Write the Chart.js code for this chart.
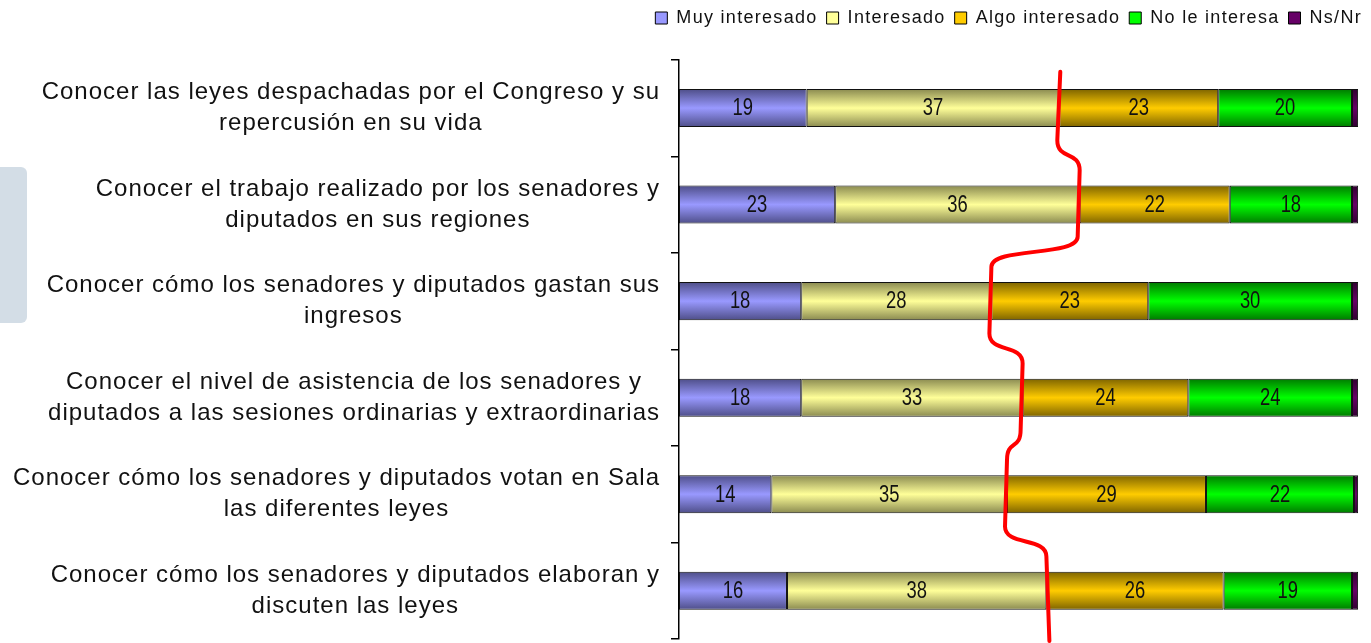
<!DOCTYPE html>
<html>
<head>
<meta charset="utf-8">
<script src="https://cdn.jsdelivr.net/npm/chart.js@4.4.1/dist/chart.umd.min.js"></script>
<style>
  html, body { margin: 0; padding: 0; background: #fff; overflow: hidden; }
  #wrap { position: relative; width: 1371px; height: 643px; }
  #side { position: absolute; left: -10px; top: 167px; width: 37px; height: 156px; background: #d3dde6; border-radius: 6px; }
  canvas { position: absolute; left: 0; top: 0; }
</style>
</head>
<body>
<div id="wrap">
  <div id="side"></div>
  <canvas id="c" width="1371" height="643"></canvas>
</div>
<script>
// ---- data ----
const categories = [
  ["Conocer las leyes despachadas por el Congreso y su", "repercusión en su vida"],
  ["Conocer el trabajo realizado por los senadores y", "diputados en sus regiones"],
  ["Conocer cómo los senadores y diputados gastan sus", "ingresos"],
  ["Conocer el nivel de asistencia de los senadores y", "diputados a las sesiones ordinarias y extraordinarias"],
  ["Conocer cómo los senadores y diputados votan en Sala", "las diferentes leyes"],
  ["Conocer cómo los senadores y diputados elaboran y", "discuten las leyes"]
];
const seriesNames = ["Muy interesado", "Interesado", "Algo interesado", "No le interesa", "Ns/Nr"];
const muyInteresado  = [18.8, 23.0, 18.0, 18.0, 13.6, 15.9];
const interesado     = [37.2, 36.0, 28.0, 32.6, 34.7, 38.2];
const algoInteresado = [23.4, 22.1, 23.1, 24.4, 29.3, 26.1];
const noLeInteresa   = [19.7, 18.0, 30.0, 24.1, 21.8, 18.9];
const nsNr           = [0.9, 0.9, 0.9, 0.9, 0.6, 0.9];

// ---- styles ----
const MID  = ["#9999ff", "#ffff99", "#ffcc00", "#00ff00", "#660066"];
const EDGE = ["#4e4e88", "#8a8a50", "#7e6400", "#007a00", "#300030"];

function barFill(ctx) {
  const i = ctx.datasetIndex;
  if (ctx.type !== 'data') return MID[i];
  const chart = ctx.chart, ys = chart.scales.y;
  if (!ys || !chart.chartArea) return MID[i];
  const yc = ys.getPixelForValue(ctx.dataIndex);
  const band = ys.height / categories.length;
  const half = band * 0.394 / 2;
  if (!isFinite(yc)) return MID[i];
  const g = chart.ctx.createLinearGradient(0, yc - half, 0, yc + half);
  g.addColorStop(0, EDGE[i]);
  g.addColorStop(0.5, MID[i]);
  g.addColorStop(1, EDGE[i]);
  return g;
}

const seriesData = [muyInteresado, interesado, algoInteresado, noLeInteresa, nsNr];

const LABEL_FONT = '24px "Liberation Sans", Arial, sans-serif';
let narrowAvail = null;
function checkNarrow(c) {
  if (narrowAvail !== null) return narrowAvail;
  c.save();
  c.font = '40px "Liberation Sans Narrow", monospace';
  const a = c.measureText('0123456789abc').width;
  c.font = '40px monospace';
  const b = c.measureText('0123456789abc').width;
  c.restore();
  narrowAvail = Math.abs(a - b) > 0.5;
  return narrowAvail;
}

const textPlugin = {
  id: 'textPlugin',
  beforeLayout(chart) { chart.ctx.letterSpacing = '1.3px'; },
  beforeDraw(chart) { chart.ctx.letterSpacing = '1.3px'; },
  afterDatasetsDraw(chart) {
    const c = chart.ctx;
    c.save();
    const narrow = checkNarrow(c);
    c.letterSpacing = '0px';
    c.fillStyle = '#111';
    c.textAlign = 'center';
    c.textBaseline = 'middle';
    for (let d = 0; d < 4; d++) {
      const meta = chart.getDatasetMeta(d);
      meta.data.forEach((el, k) => {
        const v = chart.data.datasets[d].data[k];
        const cx = (el.x + el.base) / 2, cy = el.y + 1;
        const txt = String(Math.round(v));
        c.save();
        if (narrow) {
          c.font = '24px "Liberation Sans Narrow"';
          c.fillText(txt, cx, cy);
          c.fillText(txt, cx + 0.4, cy);
        } else {
          c.translate(cx, cy);
          c.scale(0.8, 1);
          c.font = '23px "Liberation Sans", Arial, sans-serif';
          c.fillText(txt, 0, 0);
        }
        c.restore();
      });
    }
    c.restore();
  },
  afterDraw(chart) {
    const c = chart.ctx, ys = chart.scales.y, xs = chart.scales.x;
    c.save();
    c.font = LABEL_FONT;
    c.letterSpacing = '1px';
    c.fillStyle = '#111';
    c.textAlign = 'center';
    c.textBaseline = 'middle';
    const rightEdge = ys.right - 19;
    categories.forEach((lines, i) => {
      const yc = ys.getPixelForValue(i);
      const w = Math.max(...lines.map(l => c.measureText(l).width));
      const cx = rightEdge - w / 2;
      const lh = 31;
      lines.forEach((l, j) => {
        c.fillText(l, cx, yc + (j - (lines.length - 1) / 2) * lh);
      });
    });
    c.restore();

    // red hand-drawn line following the Interesado / Algo interesado boundary
    const xsB = categories.map((_, i) => xs.getPixelForValue(muyInteresado[i] + interesado[i]));
    const band = ys.height / categories.length;
    c.save();
    c.strokeStyle = '#ff0000';
    c.lineWidth = 4;
    c.lineJoin = 'round';
    c.lineCap = 'round';
    c.beginPath();
    c.moveTo(xsB[0] + 1, chart.chartArea.top + 12);
    for (let i = 0; i < xsB.length; i++) {
      const yTop = ys.getPixelForValue(i) - band / 2;
      const yb = yTop + band;
      if (i < xsB.length - 1) {
        const x0 = xsB[i], x1 = xsB[i + 1];
        c.lineTo(x0 - 2, yb - 16);
        c.bezierCurveTo(x0 - 2, yb + 4, x1, yb - 6, x1, yb + 14);
      } else {
        c.lineTo(xsB[i] + 3, chart.chartArea.bottom + 2);
      }
    }
    c.stroke();
    c.restore();
  }
};

new Chart(document.getElementById('c'), {
  type: 'bar',
  data: {
    labels: categories,
    datasets: seriesNames.map((name, i) => ({
      label: name,
      data: seriesData[i],
      backgroundColor: barFill,
      borderColor: '#111',
      borderWidth: 1,
      borderSkipped: false,
      categoryPercentage: 1,
      barPercentage: 0.394
    }))
  },
  options: {
    indexAxis: 'y',
    responsive: false,
    animation: false,
    layout: { padding: { left: 0, right: 0, top: 0, bottom: 4 } },
    scales: {
      x: { stacked: true, display: false, min: 0, max: 101.9 },
      y: {
        stacked: true,
        ticks: { display: false },
        grid: { drawOnChartArea: false, drawTicks: true, tickLength: 8, color: '#000', lineWidth: 1.5 },
        border: { display: true, color: '#000', width: 1.5 },
        afterFit(s) { s.width = 679; }
      }
    },
    plugins: {
      tooltip: { enabled: false },
      title: { display: true, text: ' ', weight: 500, font: { size: 4 }, padding: { top: 0, bottom: 18 } },
      legend: {
        position: 'top',
        align: 'end',
        labels: {
          boxWidth: 12,
          boxHeight: 12,
          padding: 9,
          color: '#111',
          font: { size: 18, family: '"Liberation Sans", Arial, sans-serif' },
          generateLabels: chart => chart.data.datasets.map((ds, i) => ({
            text: ds.label, fillStyle: MID[i], strokeStyle: '#000', lineWidth: 1,
            hidden: false, datasetIndex: i, fontColor: '#111'
          }))
        }
      }
    }
  },
  plugins: [textPlugin]
});
</script>
</body>
</html>
